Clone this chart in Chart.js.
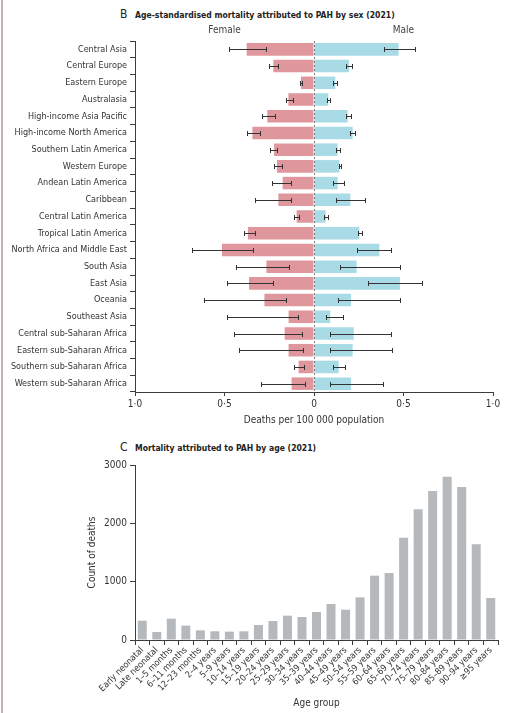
<!DOCTYPE html>
<html lang="en">
<head>
<meta charset="UTF-8">
<title>PAH mortality by sex and age (2021)</title>
<script src="https://cdn.jsdelivr.net/npm/chart.js"></script>
<style>
  body { margin: 0; width: 505px; height: 713px; position: relative; background: #fff; overflow: hidden;
         font-family: "Liberation Sans Narrow", "DejaVu Sans Condensed", Lato, sans-serif; color: #222; }
  .edge { position: absolute; left: 1px; top: 0; width: 2px; height: 713px; background: #c6afb8; }
  canvas { position: absolute; left: 0; }
  #sexChart { top: 0; }
  #ageChart { top: 430px; }
  .panel { position: absolute; font-size: 9.5px; font-weight: bold; white-space: nowrap;
           transform: scaleX(0.9); transform-origin: left top; }
  .letter { position: absolute; font-size: 12px; color: #222; }
</style>
</head>
<body>
<div class="edge"></div>
<div class="letter" style="left:120px; top:7px;">B</div>
<div class="panel" style="left:135px; top:9px;">Age-standardised mortality attributed to PAH by sex (2021)</div>
<div class="letter" style="left:120px; top:440px;">C</div>
<div class="panel" style="left:135px; top:442px;">Mortality attributed to PAH by age (2021)</div>
<canvas id="sexChart" width="505" height="430"></canvas>
<canvas id="ageChart" width="505" height="283"></canvas>
<script>
const regions = ['Central Asia', 'Central Europe', 'Eastern Europe', 'Australasia', 'High-income Asia Pacific',
  'High-income North America', 'Southern Latin America', 'Western Europe', 'Andean Latin America', 'Caribbean',
  'Central Latin America', 'Tropical Latin America', 'North Africa and Middle East', 'South Asia', 'East Asia',
  'Oceania', 'Southeast Asia', 'Central sub-Saharan Africa', 'Eastern sub-Saharan Africa',
  'Southern sub-Saharan Africa', 'Western sub-Saharan Africa'];
const femaleRate = [0.376, 0.227, 0.073, 0.143, 0.261, 0.344, 0.223, 0.207, 0.175, 0.199, 0.097, 0.369, 0.514, 0.266, 0.363, 0.277, 0.142, 0.164, 0.142, 0.086, 0.125];
const femaleLow  = [0.270, 0.199, 0.065, 0.119, 0.220, 0.302, 0.205, 0.179, 0.130, 0.128, 0.084, 0.331, 0.339, 0.138, 0.231, 0.156, 0.088, 0.067, 0.060, 0.056, 0.052];
const femaleHigh = [0.473, 0.253, 0.080, 0.158, 0.292, 0.374, 0.246, 0.223, 0.236, 0.328, 0.114, 0.393, 0.680, 0.438, 0.488, 0.613, 0.488, 0.447, 0.421, 0.112, 0.294];
const maleRate   = [0.473, 0.196, 0.119, 0.080, 0.188, 0.216, 0.132, 0.142, 0.132, 0.203, 0.065, 0.253, 0.365, 0.238, 0.480, 0.207, 0.091, 0.222, 0.216, 0.138, 0.207];
const maleLow    = [0.393, 0.177, 0.108, 0.071, 0.177, 0.200, 0.123, 0.138, 0.104, 0.125, 0.058, 0.244, 0.240, 0.143, 0.304, 0.136, 0.065, 0.088, 0.088, 0.108, 0.088];
const maleHigh   = [0.566, 0.214, 0.130, 0.091, 0.207, 0.231, 0.143, 0.153, 0.168, 0.287, 0.078, 0.268, 0.432, 0.482, 0.603, 0.480, 0.162, 0.430, 0.436, 0.175, 0.384];
const rateTicks = [-1, -0.5, 0, 0.5, 1];

const ageGroups = ['Early neonatal', 'Late neonatal', '1–5 months', '6–11 months', '12–23 months', '2–4 years',
  '5–9 years', '10–14 years', '15–19 years', '20–24 years', '25–29 years', '30–34 years', '35–39 years',
  '40–44 years', '45–49 years', '50–54 years', '55–59 years', '60–64 years', '65–69 years', '70–74 years',
  '75–79 years', '80–84 years', '85–89 years', '90–94 years', '≥95 years'];
const deaths = [331, 137, 366, 246, 166, 149, 143, 149, 257, 326, 417, 394, 480, 617, 520, 731, 1103, 1149, 1754, 2240, 2554, 2800, 2623, 1640, 720];
const countTicks = [0, 1000, 2000, 3000];

const fontStack = '"Liberation Sans Narrow", "DejaVu Sans Condensed", Lato, sans-serif';
Chart.defaults.font.family = fontStack;
Chart.defaults.font.size = 10;
Chart.defaults.color = '#333';

const axisColor = '#3c3c3c';

// error bars, dashed zero line and Female / Male headings
const sexExtras = {
  id: 'sexExtras',
  afterDatasetsDraw(chart) {
    const { ctx, scales: { x, y }, chartArea } = chart;
    ctx.save();
    ctx.strokeStyle = '#777';
    ctx.setLineDash([2, 2]);
    const x0 = Math.round(x.getPixelForValue(0)) + 0.5;
    ctx.beginPath();
    ctx.moveTo(x0, chartArea.top);
    ctx.lineTo(x0, chartArea.bottom);
    ctx.stroke();
    ctx.setLineDash([]);
    ctx.strokeStyle = '#333';
    ctx.lineWidth = 1;
    regions.forEach((r, i) => {
      const yc = Math.round(y.getPixelForValue(i)) + 0.5;
      [[-femaleHigh[i], -femaleLow[i]], [maleLow[i], maleHigh[i]]].forEach(([a, b]) => {
        const x1 = Math.round(x.getPixelForValue(a)) + 0.5;
        const x2 = Math.round(x.getPixelForValue(b)) + 0.5;
        ctx.beginPath();
        ctx.moveTo(x1, yc); ctx.lineTo(x2, yc);
        ctx.moveTo(x1, yc - 2.5); ctx.lineTo(x1, yc + 2.5);
        ctx.moveTo(x2, yc - 2.5); ctx.lineTo(x2, yc + 2.5);
        ctx.stroke();
      });
    });
    ctx.fillStyle = '#444';
    ctx.font = '10px ' + fontStack;
    ctx.textAlign = 'center';
    ctx.textBaseline = 'middle';
    ctx.fillText('Female', x.getPixelForValue(-0.5), 30);
    ctx.fillText('Male', x.getPixelForValue(0.5), 30);
    ctx.restore();
  }
};

new Chart(document.getElementById('sexChart'), {
  type: 'bar',
  data: {
    labels: regions,
    datasets: [
      { label: 'Female', data: femaleRate.map(v => -v), backgroundColor: '#df979d' },
      { label: 'Male', data: maleRate, backgroundColor: '#a8dbe5' }
    ]
  },
  options: {
    indexAxis: 'y',
    responsive: false,
    animation: false,
    grouped: false,
    categoryPercentage: 1,
    barPercentage: 0.75,
    layout: { padding: { top: 41, right: 12, left: 0, bottom: 0 } },
    plugins: { legend: { display: false }, tooltip: { enabled: false } },
    scales: {
      y: {
        afterFit: s => { s.width = 135; },
        grid: { drawOnChartArea: false, tickLength: 5, color: axisColor },
        border: { color: axisColor },
        ticks: { padding: 3, color: '#333', font: { size: 9 } }
      },
      x: {
        min: -1, max: 1,
        afterBuildTicks: s => { s.ticks = rateTicks.map(v => ({ value: v })); },
        afterFit: s => { s.height = 38; },
        grid: { drawOnChartArea: false, tickLength: 4, color: axisColor },
        border: { color: axisColor },
        ticks: {
          padding: 2,
          callback: v => v === 0 ? '0' : Math.abs(v).toFixed(1).replace('.', '·')
        },
        title: { display: true, text: 'Deaths per 100 000 population', color: '#333', padding: { top: 2, bottom: 4 } }
      }
    }
  },
  plugins: [sexExtras]
});

new Chart(document.getElementById('ageChart'), {
  type: 'bar',
  data: {
    labels: ageGroups,
    datasets: [{ label: 'Count of deaths', data: deaths, backgroundColor: '#b5b9bc' }]
  },
  options: {
    responsive: false,
    animation: false,
    categoryPercentage: 1,
    barPercentage: 0.62,
    layout: { padding: { top: 35, right: 7, left: 86, bottom: 0 } },
    plugins: { legend: { display: false }, tooltip: { enabled: false } },
    scales: {
      y: {
        min: 0, max: 3000,
        afterBuildTicks: s => { s.ticks = countTicks.map(v => ({ value: v })); },
        afterFit: s => { s.width = 49; },
        grid: { drawOnChartArea: false, tickLength: 5, color: axisColor },
        border: { color: axisColor },
        ticks: { padding: 3, callback: v => String(v) },
        title: { display: true, text: 'Count of deaths', color: '#333', padding: { top: 0, bottom: 0 } }
      },
      x: {
        afterFit: s => { s.height = 73; },
        grid: { drawOnChartArea: false, tickLength: 5, color: axisColor },
        border: { color: axisColor },
        ticks: { minRotation: 45, maxRotation: 45, padding: 0, autoSkip: false, font: { size: 9 } },
        title: { display: true, text: 'Age group', color: '#333', padding: { top: 2, bottom: 4 } }
      }
    }
  }
});
</script>
</body>
</html>
